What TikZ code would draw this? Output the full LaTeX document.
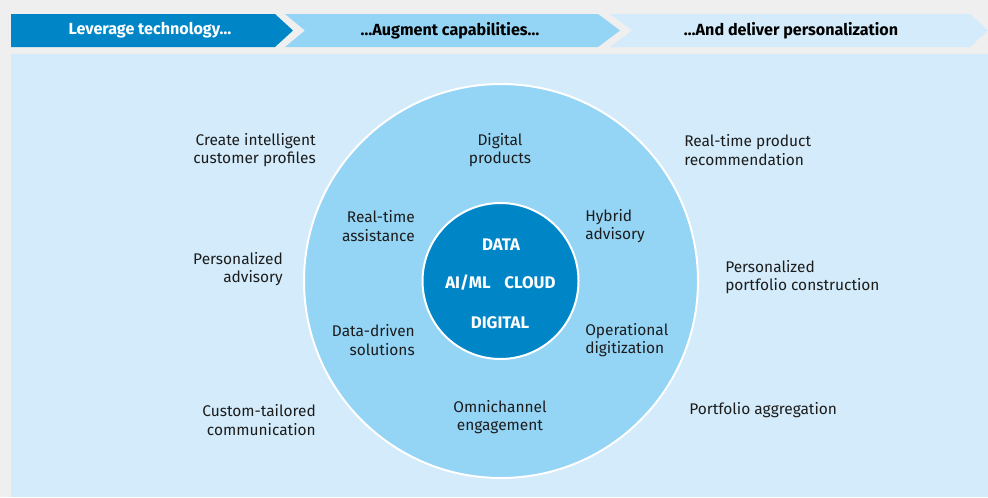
\documentclass[tikz,border=0pt]{standalone}
\usepackage{fontspec}
\setmainfont{Fira Sans}
\usepackage{tikz}
\usepackage{xcolor}
\definecolor{bgGray}{RGB}{239,239,239}
\definecolor{darkBlue}{RGB}{0,134,199}
\definecolor{midBlue}{RGB}{148,212,245}
\definecolor{paleBlue}{RGB}{211,235,250}
\definecolor{txtDark}{RGB}{28,28,28}

\begin{document}
\begin{tikzpicture}[x=0.75pt,y=0.75pt,yscale=-1,xscale=1,
  lbl/.style={inner sep=0.75pt, text=txtDark, font=\fontsize{11.6}{13.8}\selectfont},
  hdr/.style={inner sep=0.75pt, font=\fontsize{12.1}{14}\selectfont\bfseries},
  core/.style={inner sep=0.75pt, text=white, font=\fontsize{12.6}{14}\selectfont\bfseries}]
\useasboundingbox (0,0) rectangle (988,497);

%Shape: Background
\fill [bgGray] (0,0) rectangle (988,497);
%Shape: Panel
\fill [paleBlue] (11,54) rectangle (988,497);

%Shape: Arrow 1
\fill [darkBlue] (11,14) -- (275,14) -- (293,30.5) -- (275,47) -- (11,47) -- cycle ;
%Shape: Arrow 2
\fill [midBlue] (285,14) -- (598,14) -- (620,30.5) -- (598,47) -- (285,47) -- (305,30.5) -- cycle ;
%Shape: Arrow 3
\fill [paleBlue] (610,14) -- (970,14) -- (988,30.5) -- (970,47) -- (610,47) -- (632,30.5) -- cycle ;

% Text Node
\node [hdr, text=white] (lever) at (150,30.5) {Leverage technology…};
% Text Node
\node [hdr, text=black] (augment) at (450,30.5) {…Augment capabilities…};
% Text Node
\node [hdr, text=black] (deliver) at (791,30.5) {…And deliver personalization};

%Shape: Circle outer
\draw [white, line width=1.5, fill=midBlue] (501,281) circle (197) ;
%Shape: Circle inner
\draw [white, line width=1.5, fill=darkBlue] (500.5,281) circle (78) ;

% Text Node
\node [core] (data) at (501,245) {DATA};
% Text Node
\node [core] (aiml) at (468,283) {AI/ML};
% Text Node
\node [core] (cloud) at (530,283) {CLOUD};
% Text Node
\node [core] (digital) at (500,323) {DIGITAL};

% Text Node
\node [lbl, align=center] (products) at (500,150) {Digital\\products};
% Text Node
\node [lbl, align=right, anchor=east] (assist) at (416,226) {Real-time\\assistance};
% Text Node
\node [lbl, align=left, anchor=west] (hybrid) at (584,226) {Hybrid\\advisory};
% Text Node
\node [lbl, align=right, anchor=east] (datadriven) at (416,340) {Data-driven\\solutions};
% Text Node
\node [lbl, align=left, anchor=west] (operational) at (584,340) {Operational\\digitization};
% Text Node
\node [lbl, align=center] (omni) at (500,417) {Omnichannel\\engagement};

% Text Node
\node [lbl, align=right, anchor=east] (profiles) at (317,150) {Create intelligent\\customer profiles};
% Text Node
\node [lbl, align=right, anchor=east] (persadv) at (284,269) {Personalized\\advisory};
% Text Node
\node [lbl, align=right, anchor=east] (tailored) at (317,420) {Custom-tailored\\communication};
% Text Node
\node [lbl, align=left, anchor=west] (recommend) at (683,150) {Real-time product\\recommendation};
% Text Node
\node [lbl, align=left, anchor=west] (portconst) at (724,277) {Personalized\\portfolio construction};
% Text Node
\node [lbl, align=left, anchor=west] (aggreg) at (688,410) {Portfolio aggregation};

\end{tikzpicture}
\end{document}
